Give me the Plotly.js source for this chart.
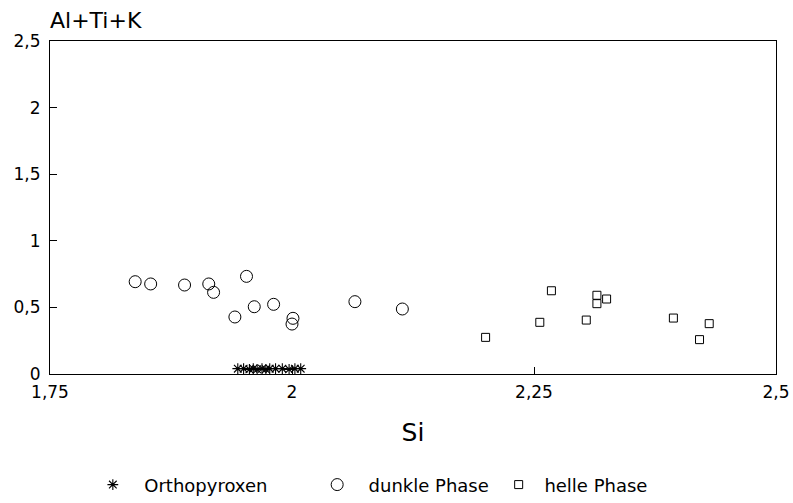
<!DOCTYPE html>
<html>
<head>
<meta charset="utf-8">
<script src="https://cdn.plot.ly/plotly-3.0.1.min.js"></script>
<style>html,body{margin:0;padding:0;background:#fff;}#chart{width:793px;height:503px;}</style>
</head>
<body>
<div id="chart"></div>
<script>
// Orthopyroxen
const opxSi = [1.944, 1.950, 1.956, 1.960, 1.964, 1.969, 1.973, 1.977, 1.983, 1.990, 1.997, 2.003, 2.009];
const opxAl = [0.04, 0.04, 0.035, 0.04, 0.035, 0.04, 0.035, 0.04, 0.04, 0.04, 0.035, 0.04, 0.04];
// dunkle Phase
const darkSi = [1.838, 1.854, 1.889, 1.914, 1.919, 1.953, 1.941, 1.961, 1.981, 2.001, 2.000, 2.065, 2.114];
const darkAl = [0.693, 0.676, 0.668, 0.676, 0.613, 0.733, 0.428, 0.505, 0.523, 0.418, 0.375, 0.543, 0.488];
// helle Phase
const lightSi = [2.200, 2.256, 2.268, 2.304, 2.315, 2.315, 2.325, 2.394, 2.431, 2.421];
const lightAl = [0.275, 0.388, 0.625, 0.405, 0.591, 0.528, 0.563, 0.420, 0.378, 0.258];

const tickVals = [0, 0.5, 1, 1.5, 2, 2.5];
const tickText = ['0', '0,5', '1', '1,5', '2', '2,5'];
const xTickVals = [1.75, 2, 2.25, 2.5];
const xTickText = ['1,75', '2', '2,25', '2,5'];
const names = ['\u00A0\u00A0Orthopyroxen', '\u00A0\u00A0dunkle Phase', '\u00A0helle Phase'];

const FONT = 'DejaVu Sans, sans-serif';

const traces = [
  {x: opxSi, y: opxAl, name: names[0], mode: 'markers', type: 'scatter', legend: 'legend',
   marker: {symbol: 'asterisk-open', size: 9, color: '#000', line: {color: '#000', width: 1.1}}},
  {x: darkSi, y: darkAl, name: names[1], mode: 'markers', type: 'scatter', legend: 'legend2',
   marker: {symbol: 'circle-open', size: 12, color: '#000', line: {color: '#000', width: 1}}},
  {x: lightSi, y: lightAl, name: names[2], mode: 'markers', type: 'scatter', legend: 'legend3',
   marker: {symbol: 'square-open', size: 8, color: '#000', line: {color: '#000', width: 1}}}
];

const legendBase = {orientation: 'h', yanchor: 'middle', y: -0.333, xanchor: 'left',
  font: {family: FONT, size: 18, color: '#000'}, bgcolor: 'rgba(0,0,0,0)', borderwidth: 0};

const layout = {
  width: 793, height: 503,
  margin: {l: 50, r: 17, t: 41, b: 129, pad: 0, autoexpand: false},
  paper_bgcolor: '#fff', plot_bgcolor: '#fff',
  font: {family: FONT, color: '#000'},
  showlegend: true,
  xaxis: {
    range: [1.75, 2.5], tickvals: xTickVals, ticktext: xTickText,
    ticks: 'inside', ticklen: 7, tickcolor: '#000', tickwidth: 1,
    showline: true, mirror: true, linecolor: '#000', linewidth: 1,
    showgrid: false, zeroline: false, automargin: false, ticklabelstandoff: 3,
    tickfont: {family: FONT, size: 17, color: '#000'},
    title: {text: 'Si', font: {family: FONT, size: 25, color: '#000'}, standoff: 22}
  },
  yaxis: {
    range: [0, 2.5], tickvals: tickVals, ticktext: tickText,
    ticks: 'inside', ticklen: 7, tickcolor: '#000', tickwidth: 1,
    showline: true, mirror: true, linecolor: '#000', linewidth: 1,
    showgrid: false, zeroline: false, automargin: false, ticklabelstandoff: 5,
    tickfont: {family: FONT, size: 17, color: '#000'}
  },
  legend: Object.assign({}, legendBase, {x: 0.059}),
  legend2: Object.assign({}, legendBase, {x: 0.368}),
  legend3: Object.assign({}, legendBase, {x: 0.618}),
  annotations: [{
    text: 'Al+Ti+K', xref: 'paper', yref: 'paper', x: 0, y: 1, xanchor: 'left', yanchor: 'bottom',
    yshift: 6, xshift: -2, showarrow: false, font: {family: FONT, size: 22, color: '#000'}
  }]
};

Plotly.newPlot('chart', traces, layout, {staticPlot: true, displayModeBar: false});
</script>
</body>
</html>
